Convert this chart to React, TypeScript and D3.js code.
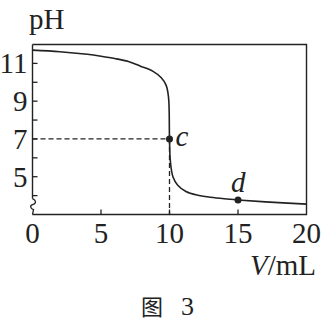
import React from "react";
import * as d3 from "d3";

const volumes = [0, 2, 4, 5, 6, 7, 7.85, 8.8, 9.4, 9.75, 9.93, 10, 10.06, 10.25, 10.6, 11.2, 12, 13, 14, 15, 17, 20];
const phValues = [11.7, 11.62, 11.48, 11.38, 11.26, 11.1, 10.86, 10.58, 10.24, 9.85, 9.2, 7.0, 5.85, 5.0, 4.55, 4.22, 4.03, 3.91, 3.83, 3.77, 3.67, 3.55];
const xTicks = [0, 5, 10, 15, 20];
const yTickMarks = [4, 5, 6, 7, 8, 9, 10, 11];
const yTickLabels = [5, 7, 9, 11];
const markedPoints = [
  { label: "c", v: 10, ph: 7 },
  { label: "d", v: 15, ph: 3.77 },
];

export default function App() {
  const left = 32.5, right = 306.5, top = 44.5, bottom = 214.5;
  const x = d3.scaleLinear().domain([0, 20]).range([left, right]);
  const y = d3.scaleLinear().domain([3, 12]).range([bottom, top]);
  const data = volumes.map((v, i) => [v, phValues[i]] as [number, number]);
  const path = d3
    .line<[number, number]>()
    .x((d) => x(d[0]))
    .y((d) => y(d[1]))
    .curve(d3.curveCatmullRom.alpha(0.5))(data) as string;
  const ink = "#222";
  const font = "Liberation Serif, Times New Roman, serif";
  const c = markedPoints[0];
  const d = markedPoints[1];
  const breakTop = y(4) + 3;
  const squiggle = `M${left},${breakTop} C${left + 4},${breakTop + 2} ${left + 4},${breakTop + 5} ${left},${breakTop + 6} C${left - 3},${breakTop + 7} ${left - 2},${breakTop + 10} ${left + 1},${breakTop + 11} L${left},${bottom}`;
  return (
    <svg width={326} height={328} style={{ position: "absolute", left: 0, top: 0 }} fontFamily={font}>
      <rect width={326} height={328} fill="#fff" />
      <path d={`M${left},${top} H${right} V${bottom} H${left}`} fill="none" stroke={ink} strokeWidth={1.4} />
      <path d={`M${left},${top} V${breakTop}`} fill="none" stroke={ink} strokeWidth={1.4} />
      <path d={squiggle} fill="none" stroke={ink} strokeWidth={1.3} />
      {yTickMarks.map((t) => (
        <line key={t} x1={left} x2={left + 5} y1={y(t)} y2={y(t)} stroke={ink} strokeWidth={1.3} />
      ))}
      {xTicks.slice(1, -1).map((t) => (
        <line key={t} x1={x(t)} x2={x(t)} y1={bottom} y2={bottom - 5} stroke={ink} strokeWidth={1.3} />
      ))}
      {yTickLabels.map((t) => (
        <text key={t} x={left - 5} y={y(t) + 10} textAnchor="end" fontSize={29} fill={ink}>
          {t}
        </text>
      ))}
      {xTicks.map((t) => (
        <text key={t} x={x(t)} y={243} textAnchor="middle" fontSize={29} fill={ink}>
          {t}
        </text>
      ))}
      <text x={29} y={29} fontSize={29} fill={ink}>pH</text>
      <text x={316} y={275} textAnchor="end" fontSize={29} fill={ink}>
        <tspan fontStyle="italic">V</tspan>/mL
      </text>
      <line x1={left} x2={x(c.v)} y1={y(c.ph)} y2={y(c.ph)} stroke={ink} strokeWidth={1.3} strokeDasharray="5,3" />
      <line x1={x(c.v)} x2={x(c.v)} y1={y(c.ph)} y2={bottom} stroke={ink} strokeWidth={1.3} strokeDasharray="5,3" />
      <path d={path} fill="none" stroke={ink} strokeWidth={1.6} />
      {markedPoints.map((p) => (
        <circle key={p.label} cx={x(p.v)} cy={y(p.ph)} r={3.5} fill={ink} />
      ))}
      <text x={x(c.v) + 6} y={y(c.ph) + 7} fontSize={29} fontStyle="italic" fill={ink}>c</text>
      <text x={x(d.v) - 7} y={y(d.ph) - 8} fontSize={29} fontStyle="italic" fill={ink}>d</text>
      <text x={141} y={315} fontSize={22} fill={ink} fontFamily="Noto Sans CJK SC, sans-serif">图</text>
      <text x={181} y={315} fontSize={26} fill={ink}>3</text>
    </svg>
  );
}
